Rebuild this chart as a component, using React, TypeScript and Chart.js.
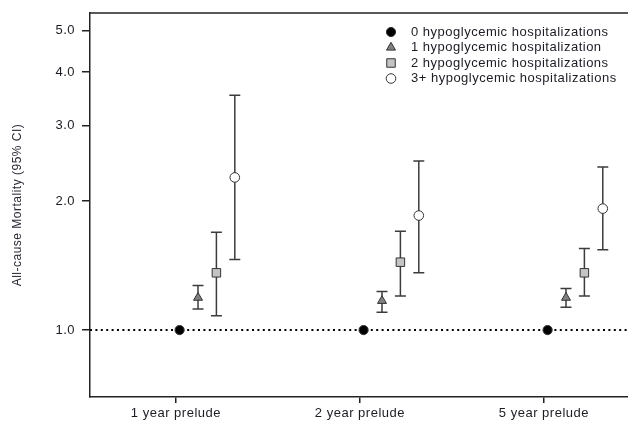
import React, { useEffect, useRef } from 'react';
import { Chart, registerables } from 'chart.js';
import { drawPoint } from 'chart.js/helpers';

Chart.register(...registerables);

// Categories and series
const categories = ['1 year prelude', '2 year prelude', '5 year prelude'];
const seriesLabels = [
  '0 hypoglycemic hospitalizations',
  '1 hypoglycemic hospitalization',
  '2 hypoglycemic hospitalizations',
  '3+ hypoglycemic hospitalizations',
];

// Hazard estimates with 95% CI
const zeroEstimate = [1.0, 1.0, 1.0];
const oneEstimate = [1.19, 1.17, 1.19];
const oneLower = [1.12, 1.1, 1.13];
const oneUpper = [1.27, 1.23, 1.25];
const twoEstimate = [1.36, 1.44, 1.36];
const twoLower = [1.08, 1.2, 1.2];
const twoUpper = [1.69, 1.7, 1.55];
const threeEstimate = [2.27, 1.85, 1.92];
const threeLower = [1.46, 1.36, 1.54];
const threeUpper = [3.53, 2.48, 2.4];

const yTicks = [1, 2, 3, 4, 5];
const referenceValue = 1.0;

const FONT = '"Liberation Sans", Arial, sans-serif';
const TEXT = '#1c1c24';
const X_MIN = 0.533;
const X_MAX = 3.457;

type Style = {
  pointStyle: string;
  radius: number;
  fill: string;
};

const styles: Style[] = [
  { pointStyle: 'circle', radius: 4.6, fill: '#000000' },
  { pointStyle: 'triangle', radius: 5.2, fill: '#808080' },
  { pointStyle: 'rect', radius: 6.0, fill: '#c4c4c4' },
  { pointStyle: 'circle', radius: 4.8, fill: '#ffffff' },
];
const offsets = [0.02, 0.12, 0.22, 0.32];

const estimates = [zeroEstimate, oneEstimate, twoEstimate, threeEstimate];
const lowers = [null, oneLower, twoLower, threeLower];
const uppers = [null, oneUpper, twoUpper, threeUpper];

const textSpacingPlugin = {
  id: 'textSpacing',
  beforeUpdate(chart: any) {
    chart.ctx.letterSpacing = '0.5px';
  },
  beforeDraw(chart: any) {
    chart.ctx.letterSpacing = '0.5px';
  },
};

const errorBarsPlugin = {
  id: 'errorBars',
  beforeDatasetsDraw(chart: any) {
    const { ctx } = chart;
    const xs = chart.scales.x;
    const ys = chart.scales.y;
    ctx.save();
    ctx.strokeStyle = '#3c3c3c';
    ctx.lineWidth = 1.5;
    chart.data.datasets.forEach((ds: any) => {
      if (!ds.lower || !ds.upper) return;
      ds.data.forEach((pt: any, i: number) => {
        const px = xs.getPixelForValue(pt.x);
        const top = ys.getPixelForValue(ds.upper[i]);
        const bot = ys.getPixelForValue(ds.lower[i]);
        const cap = 5.5;
        ctx.beginPath();
        ctx.moveTo(px, top);
        ctx.lineTo(px, bot);
        ctx.moveTo(px - cap, top);
        ctx.lineTo(px + cap, top);
        ctx.moveTo(px - cap, bot);
        ctx.lineTo(px + cap, bot);
        ctx.stroke();
      });
    });
    ctx.restore();
  },
};

const framePlugin = {
  id: 'frameAndLegend',
  afterDraw(chart: any) {
    const { ctx, chartArea } = chart;
    ctx.save();
    // top edge of the plotting frame
    ctx.strokeStyle = '#222222';
    ctx.lineWidth = 1.5;
    ctx.beginPath();
    ctx.moveTo(chartArea.left, chartArea.top);
    ctx.lineTo(chartArea.right, chartArea.top);
    ctx.stroke();

    // legend in the upper right of the plot
    const markerX = 391;
    const textX = 411;
    const rowY = 32;
    const rowStep = 15.5;
    ctx.font = `13px ${FONT}`;
    ctx.textBaseline = 'middle';
    ctx.textAlign = 'left';
    seriesLabels.forEach((label, i) => {
      const y = rowY + i * rowStep;
      const s = styles[i];
      ctx.fillStyle = s.fill;
      ctx.strokeStyle = '#333333';
      ctx.lineWidth = 1;
      drawPoint(ctx, { pointStyle: s.pointStyle, radius: s.radius, rotation: 0, borderWidth: 1 } as any, markerX, y);
      ctx.fillStyle = TEXT;
      ctx.fillText(label, textX, y);
    });
    ctx.restore();
  },
};

export default function App() {
  const canvasRef = useRef<HTMLCanvasElement | null>(null);

  useEffect(() => {
    const canvas = canvasRef.current;
    if (!canvas) return;

    const pointSets = estimates.map((vals, si) => ({
      type: 'scatter' as const,
      label: seriesLabels[si],
      data: vals.map((v, ci) => ({ x: ci + 1 + offsets[si], y: v })),
      lower: lowers[si],
      upper: uppers[si],
      pointStyle: styles[si].pointStyle,
      pointRadius: styles[si].radius,
      pointHoverRadius: styles[si].radius,
      pointBackgroundColor: styles[si].fill,
      pointBorderColor: '#333333',
      pointBorderWidth: 1,
      showLine: false,
      order: 0,
    }));

    const referenceLine = {
      type: 'line' as const,
      label: 'reference',
      data: [
        { x: X_MIN, y: referenceValue },
        { x: X_MAX, y: referenceValue },
      ],
      borderColor: '#000000',
      borderWidth: 2,
      borderDash: [2, 3.4],
      pointRadius: 0,
      fill: false,
      order: 10,
    };

    const chart = new Chart(canvas, {
      type: 'scatter',
      data: { datasets: [referenceLine as any, ...pointSets] },
      options: {
        animation: false,
        responsive: false,
        devicePixelRatio: 1,
        layout: { autoPadding: false, padding: { top: 13, right: 0, left: 0, bottom: 0 } },
        plugins: {
          legend: { display: false },
          tooltip: { enabled: false },
        },
        scales: {
          x: {
            type: 'linear',
            min: X_MIN,
            max: X_MAX,
            bounds: 'data',
            afterBuildTicks: (scale: any) => {
              scale.ticks = categories.map((_, i) => ({ value: i + 1 }));
            },
            afterFit: (scale: any) => {
              scale.height = 25;
              scale.paddingLeft = 0;
              scale.paddingRight = 0;
            },
            ticks: {
              autoSkip: false,
              maxRotation: 0,
              padding: 3,
              color: TEXT,
              font: { family: FONT, size: 13 },
              callback: (v: any) => categories[Math.round(Number(v)) - 1] ?? '',
            },
            grid: {
              drawOnChartArea: false,
              tickLength: 6,
              color: '#222222',
              lineWidth: 1.5,
            },
            border: { display: true, color: '#222222', width: 1.5 },
          },
          y: {
            type: 'logarithmic',
            min: 0.698,
            max: 5.49,
            bounds: 'data',
            afterBuildTicks: (scale: any) => {
              scale.ticks = yTicks.map((v) => ({ value: v }));
            },
            afterFit: (scale: any) => {
              scale.width = 90;
              scale.paddingTop = 0;
              scale.paddingBottom = 0;
            },
            ticks: {
              autoSkip: false,
              padding: 7,
              color: TEXT,
              font: { family: FONT, size: 13 },
              callback: (v: any) => Number(v).toFixed(1),
            },
            grid: {
              drawOnChartArea: false,
              tickLength: 8,
              color: '#222222',
              lineWidth: 1.5,
            },
            border: { display: true, color: '#222222', width: 1.5 },
            title: {
              display: true,
              text: 'All-cause Mortality (95% CI)',
              color: '#2a2a34',
              font: { family: FONT, size: 12 },
              padding: { top: 10, bottom: 0 },
            },
          },
        },
      },
      plugins: [textSpacingPlugin, errorBarsPlugin, framePlugin],
    });

    return () => chart.destroy();
  }, []);

  return (
    <canvas
      ref={canvasRef}
      width={628}
      height={422}
      style={{ position: 'absolute', left: 0, top: 0, width: 628, height: 422, display: 'block', background: '#ffffff' }}
    />
  );
}
